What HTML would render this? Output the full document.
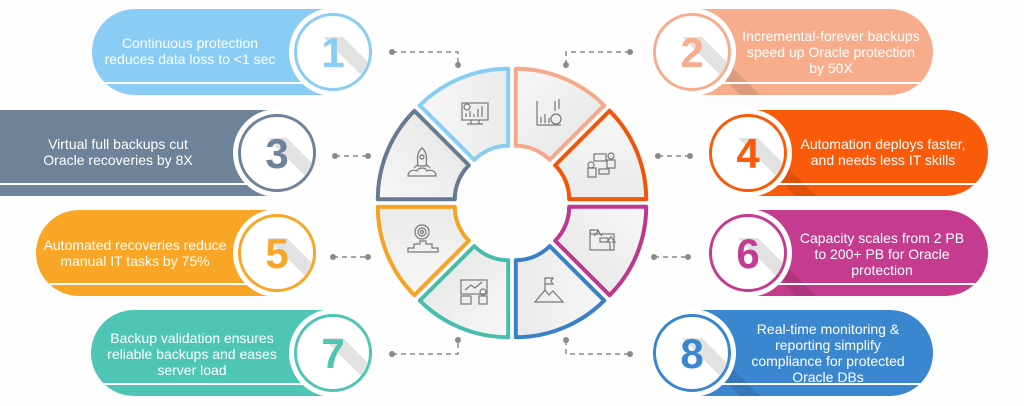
<!DOCTYPE html>
<html><head><meta charset="utf-8"><style>
html,body{margin:0;padding:0;background:#fdfdfd;}
svg{display:block;}
text{font-family:"Liberation Sans",sans-serif;}
</style></head><body>
<svg width="1024" height="406" viewBox="0 0 1024 406" xmlns="http://www.w3.org/2000/svg">
<defs>
<linearGradient id="seg" x1="0" y1="0" x2="1" y2="1"><stop offset="0" stop-color="#f7f7f7"/><stop offset="1" stop-color="#e4e4e4"/></linearGradient>
<clipPath id="p1"><rect x="92" y="9" width="280" height="86" rx="43"/></clipPath>
<clipPath id="p3"><rect x="-60" y="110" width="376" height="86" rx="43"/></clipPath>
<clipPath id="p5"><rect x="36" y="210" width="280" height="86" rx="43"/></clipPath>
<clipPath id="p7"><rect x="91" y="310" width="281" height="86" rx="43"/></clipPath>
<clipPath id="p2"><rect x="652" y="9" width="281" height="86" rx="43"/></clipPath>
<clipPath id="p4"><rect x="708" y="110" width="280" height="86" rx="43"/></clipPath>
<clipPath id="p6"><rect x="708" y="210" width="280" height="86" rx="43"/></clipPath>
<clipPath id="p8"><rect x="652" y="310" width="281" height="86" rx="43"/></clipPath>
<clipPath id="c1"><circle cx="333" cy="52" r="36"/></clipPath>
<clipPath id="c3"><circle cx="277" cy="153" r="36"/></clipPath>
<clipPath id="c5"><circle cx="277" cy="253" r="36"/></clipPath>
<clipPath id="c7"><circle cx="333" cy="353" r="36"/></clipPath>
<clipPath id="c2"><circle cx="692" cy="52" r="36"/></clipPath>
<clipPath id="c4"><circle cx="748" cy="153" r="36"/></clipPath>
<clipPath id="c6"><circle cx="748" cy="253" r="36"/></clipPath>
<clipPath id="c8"><circle cx="692" cy="353" r="36"/></clipPath>
</defs>

<g stroke="#8a8a8a" stroke-width="1.5" stroke-dasharray="5,4" fill="none">
<path d="M392,52 H458 V65"/><path d="M566,65 V52 H630"/>
<path d="M335,156 H368"/><path d="M658,156 H690"/>
<path d="M333,257 H368"/><path d="M654,257 H688"/>
<path d="M392,354 H458 V340"/><path d="M566,340 V354 H630"/>
</g>
<g fill="#8a8a8a">
<circle cx="392" cy="52" r="3"/><circle cx="458" cy="65" r="3"/><circle cx="566" cy="65" r="3"/><circle cx="630" cy="52" r="3"/>
<circle cx="335" cy="156" r="3"/><circle cx="368" cy="156" r="3"/><circle cx="658" cy="156" r="3"/><circle cx="690" cy="156" r="3"/>
<circle cx="333" cy="257" r="3"/><circle cx="368" cy="257" r="3"/><circle cx="654" cy="257" r="3"/><circle cx="688" cy="257" r="3"/>
<circle cx="392" cy="354" r="3"/><circle cx="458" cy="340" r="3"/><circle cx="566" cy="340" r="3"/><circle cx="630" cy="354" r="3"/>
</g>

<g fill="url(#seg)" stroke-width="4" stroke-linejoin="round">
<path transform="translate(512,203) rotate(0) translate(3.8,-9.2)" stroke="#f5a98a" d="M0,-125 A125,125 0 0 1 88.39,-88.39 L33.94,-33.94 A48,48 0 0 0 0,-48 Z"/>
<path transform="translate(512,203) rotate(45) translate(3.8,-9.2)" stroke="#f0550a" d="M0,-125 A125,125 0 0 1 88.39,-88.39 L33.94,-33.94 A48,48 0 0 0 0,-48 Z"/>
<path transform="translate(512,203) rotate(90) translate(3.8,-9.2)" stroke="#bf378c" d="M0,-125 A125,125 0 0 1 88.39,-88.39 L33.94,-33.94 A48,48 0 0 0 0,-48 Z"/>
<path transform="translate(512,203) rotate(135) translate(3.8,-9.2)" stroke="#3a80c6" d="M0,-125 A125,125 0 0 1 88.39,-88.39 L33.94,-33.94 A48,48 0 0 0 0,-48 Z"/>
<path transform="translate(512,203) rotate(180) translate(3.8,-9.2)" stroke="#48bdae" d="M0,-125 A125,125 0 0 1 88.39,-88.39 L33.94,-33.94 A48,48 0 0 0 0,-48 Z"/>
<path transform="translate(512,203) rotate(225) translate(3.8,-9.2)" stroke="#f6a324" d="M0,-125 A125,125 0 0 1 88.39,-88.39 L33.94,-33.94 A48,48 0 0 0 0,-48 Z"/>
<path transform="translate(512,203) rotate(270) translate(3.8,-9.2)" stroke="#667b92" d="M0,-125 A125,125 0 0 1 88.39,-88.39 L33.94,-33.94 A48,48 0 0 0 0,-48 Z"/>
<path transform="translate(512,203) rotate(315) translate(3.8,-9.2)" stroke="#89cdf5" d="M0,-125 A125,125 0 0 1 88.39,-88.39 L33.94,-33.94 A48,48 0 0 0 0,-48 Z"/>
</g>
<g stroke="#777" stroke-width="1.2" fill="none">
<g transform="translate(475,113)"><rect x="-13" y="-10" width="26" height="17"/><path d="M-4,7 v4 M4,7 v4 M-8,11 h16 M-9,4 v-4 M-5,4 v-6 M-1,4 v-3 M3,4 v-8 M7,4 v-11"/><circle cx="-8" cy="-6" r="3"/></g>
<g transform="translate(549,113)"><path d="M-12,-12 v24 h24 M-8,10 v-6 M-4,10 v-9 M0,10 v-5 M6,-2 v-10 M10,-4 v-10"/><circle cx="7" cy="6" r="5"/></g>
<g transform="translate(602,164)"><rect x="-8" y="-10" width="12" height="7"/><circle cx="9" cy="-8" r="3"/><rect x="5" y="-4" width="8" height="8"/><circle cx="-11" cy="1" r="3"/><rect x="-14" y="4" width="8" height="9"/><rect x="-3" y="5" width="10" height="5"/></g>
<g transform="translate(602,240)"><rect x="-12" y="-6" width="24" height="16"/><path d="M-12,-6 v-4 h8 l2,4 M-8,-4 l4,-5 l4,5 M8,10 v-8 l-3,0 l4,-5 l4,5 h-3"/><rect x="-2" y="-2" width="8" height="4"/></g>
<g transform="translate(549,292)"><path d="M-14,10 l10,-12 l4,5 l4,-4 l10,11 z M-4,-2 v-12 h8 l-2,3 l2,3 h-8"/></g>
<g transform="translate(475,292)"><rect x="-14" y="-12" width="26" height="14"/><path d="M-10,-2 l6,-5 l4,3 l7,-6"/><rect x="-14" y="4" width="10" height="8"/><rect x="4" y="4" width="8" height="8"/><circle cx="8" cy="0" r="3"/></g>
<g transform="translate(422,240)"><circle cx="0" cy="-8" r="7"/><circle cx="0" cy="-8" r="4"/><circle cx="0" cy="-8" r="1.5"/><path d="M-14,12 v-4 h6 v-4 h6 v-3 h6 v3 h6 v4 h6 v4 z"/></g>
<g transform="translate(422,164)"><path d="M0,-16 c5,4 5,10 4,18 h-8 c-1,-8 -1,-14 4,-18 z M-4,0 l-4,4 M4,0 l4,4 M-14,12 c0,-5 5,-7 9,-5 c2,-4 8,-4 10,0 c4,-2 9,0 9,5 z"/><circle cx="0" cy="-7" r="2"/></g>
</g>

<g font-size="14" fill="#fff" text-anchor="middle">
<rect x="92" y="9" width="280" height="86" rx="43" fill="#89cdf5"/>
<polygon clip-path="url(#p1)" points="323,37 343,37 423,117 403,117" fill="#000" opacity="0.1"/>
<line x1="105" y1="83" x2="330" y2="83" stroke="#fff" stroke-width="2"/>
<text x="190" y="48">Continuous protection</text><text x="190" y="64">reduces data loss to &lt;1 sec</text>

<rect x="-60" y="110" width="376" height="86" rx="43" fill="#6e8299"/>
<polygon clip-path="url(#p3)" points="267,138 287,138 367,218 347,218" fill="#000" opacity="0.1"/>
<line x1="0" y1="184" x2="274" y2="184" stroke="#fff" stroke-width="2"/>
<text x="118" y="149">Virtual full backups cut</text><text x="118" y="165">Oracle recoveries by 8X</text>

<rect x="36" y="210" width="280" height="86" rx="43" fill="#f9a525"/>
<polygon clip-path="url(#p5)" points="267,238 287,238 367,318 347,318" fill="#000" opacity="0.1"/>
<line x1="50" y1="284" x2="274" y2="284" stroke="#fff" stroke-width="2"/>
<text x="135" y="250">Automated recoveries reduce</text><text x="135" y="266">manual IT tasks by 75%</text>

<rect x="91" y="310" width="281" height="86" rx="43" fill="#4ec5b5"/>
<polygon clip-path="url(#p7)" points="323,338 343,338 423,418 403,418" fill="#000" opacity="0.1"/>
<line x1="104" y1="384" x2="330" y2="384" stroke="#fff" stroke-width="2"/>
<text x="192" y="343">Backup validation ensures</text><text x="192" y="359">reliable backups and eases</text><text x="192" y="375">server load</text>

<rect x="652" y="9" width="281" height="86" rx="43" fill="#f7ad8c"/>
<polygon clip-path="url(#p2)" points="682,37 702,37 782,117 762,117" fill="#000" opacity="0.1"/>
<line x1="695" y1="83" x2="920" y2="83" stroke="#fff" stroke-width="2"/>
<text x="831" y="41">Incremental-forever backups</text><text x="831" y="57">speed up Oracle protection</text><text x="831" y="73">by 50X</text>

<rect x="708" y="110" width="280" height="86" rx="43" fill="#f95b0b"/>
<polygon clip-path="url(#p4)" points="738,138 758,138 838,218 818,218" fill="#000" opacity="0.1"/>
<line x1="750" y1="184" x2="975" y2="184" stroke="#fff" stroke-width="2"/>
<text x="883" y="149">Automation deploys faster,</text><text x="883" y="165">and needs less IT skills</text>

<rect x="708" y="210" width="280" height="86" rx="43" fill="#c43b8f"/>
<polygon clip-path="url(#p6)" points="738,238 758,238 838,318 818,318" fill="#000" opacity="0.1"/>
<line x1="750" y1="284" x2="975" y2="284" stroke="#fff" stroke-width="2"/>
<text x="882" y="243">Capacity scales from 2 PB</text><text x="882" y="259">to 200+ PB for Oracle</text><text x="882" y="275">protection</text>

<rect x="652" y="310" width="281" height="86" rx="43" fill="#3a86cf"/>
<polygon clip-path="url(#p8)" points="682,338 702,338 782,418 762,418" fill="#000" opacity="0.1"/>
<line x1="695" y1="384" x2="920" y2="384" stroke="#fff" stroke-width="2"/>
<text x="828" y="334">Real-time monitoring &amp;</text><text x="828" y="350">reporting simplify</text><text x="828" y="366">compliance for protected</text><text x="828" y="382">Oracle DBs</text>
</g>

<g font-size="42" font-weight="bold" text-anchor="middle">
<circle cx="333" cy="52" r="44" fill="#fff"/><circle cx="333" cy="52" r="37.5" fill="#fff" stroke="#89cdf5" stroke-width="3"/>
<polygon clip-path="url(#c1)" points="323,37 343,37 423,117 403,117" fill="#e2e2e2"/>
<text x="333" y="67" fill="#89cdf5">1</text>

<circle cx="277" cy="153" r="44" fill="#fff"/><circle cx="277" cy="153" r="37.5" fill="#fff" stroke="#6e8299" stroke-width="3"/>
<polygon clip-path="url(#c3)" points="267,138 287,138 367,218 347,218" fill="#e2e2e2"/>
<text x="277" y="168" fill="#6e8299">3</text>

<circle cx="277" cy="253" r="44" fill="#fff"/><circle cx="277" cy="253" r="37.5" fill="#fff" stroke="#f9a525" stroke-width="3"/>
<polygon clip-path="url(#c5)" points="267,238 287,238 367,318 347,318" fill="#e2e2e2"/>
<text x="277" y="268" fill="#f9a525">5</text>

<circle cx="333" cy="353" r="44" fill="#fff"/><circle cx="333" cy="353" r="37.5" fill="#fff" stroke="#4ec5b5" stroke-width="3"/>
<polygon clip-path="url(#c7)" points="323,338 343,338 423,418 403,418" fill="#e2e2e2"/>
<text x="333" y="368" fill="#4ec5b5">7</text>

<circle cx="692" cy="52" r="44" fill="#fff"/><circle cx="692" cy="52" r="37.5" fill="#fff" stroke="#f7ad8c" stroke-width="3"/>
<polygon clip-path="url(#c2)" points="682,37 702,37 782,117 762,117" fill="#e2e2e2"/>
<text x="692" y="67" fill="#f7ad8c">2</text>

<circle cx="748" cy="153" r="44" fill="#fff"/><circle cx="748" cy="153" r="37.5" fill="#fff" stroke="#f95b0b" stroke-width="3"/>
<polygon clip-path="url(#c4)" points="738,138 758,138 838,218 818,218" fill="#e2e2e2"/>
<text x="748" y="168" fill="#f95b0b">4</text>

<circle cx="748" cy="253" r="44" fill="#fff"/><circle cx="748" cy="253" r="37.5" fill="#fff" stroke="#c43b8f" stroke-width="3"/>
<polygon clip-path="url(#c6)" points="738,238 758,238 838,318 818,318" fill="#e2e2e2"/>
<text x="748" y="268" fill="#c43b8f">6</text>

<circle cx="692" cy="353" r="44" fill="#fff"/><circle cx="692" cy="353" r="37.5" fill="#fff" stroke="#3a86cf" stroke-width="3"/>
<polygon clip-path="url(#c8)" points="682,338 702,338 782,418 762,418" fill="#e2e2e2"/>
<text x="692" y="368" fill="#3a86cf">8</text>
</g>
</svg>
</body></html>
